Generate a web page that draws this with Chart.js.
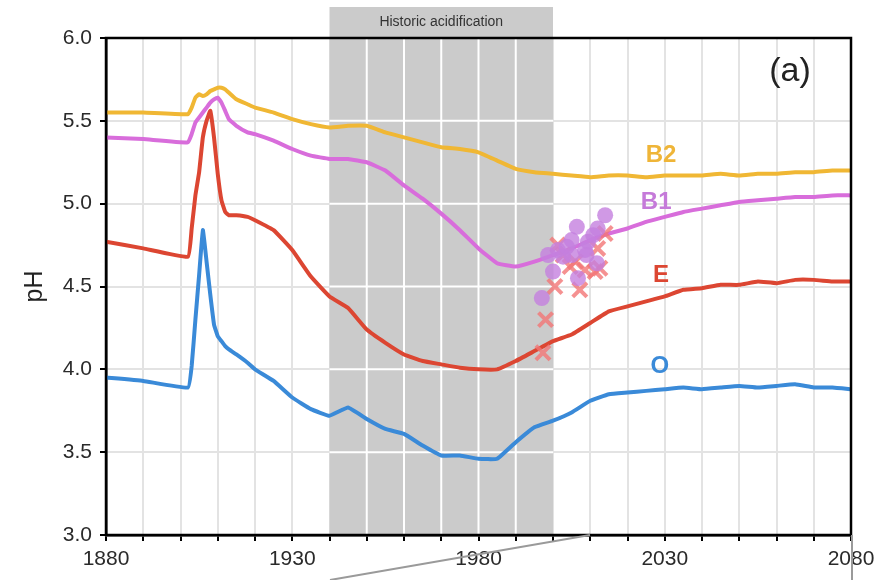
<!DOCTYPE html>
<html>
<head>
<meta charset="utf-8">
<script src="https://cdn.jsdelivr.net/npm/chart.js@4/dist/chart.umd.min.js"></script>
<style>
  html, body { margin: 0; padding: 0; background: #fff; }
  #wrap { width: 885px; height: 580px; position: relative; }
</style>
</head>
<body>
<div id="wrap"><canvas id="ph-chart" width="885" height="580"></canvas></div>
<script>
// simulated soil water pH per horizon
const years = [1880, 1890, 1902, 1903, 1904, 1905, 1906, 1907, 1908, 1909, 1910, 1911, 1912, 1913,
  1915, 1918, 1920, 1925, 1930, 1935, 1940, 1945, 1950, 1955, 1960, 1965, 1970, 1975, 1980, 1985,
  1990, 1995, 2000, 2005, 2010, 2015, 2020, 2025, 2030, 2035, 2040, 2045, 2050, 2055, 2060, 2065,
  2070, 2075, 2080];
const phB2 = [5.55, 5.55, 5.54, 5.58, 5.64, 5.66, 5.65, 5.66, 5.68, 5.69, 5.70, 5.70, 5.69, 5.67,
  5.63, 5.60, 5.58, 5.55, 5.51, 5.48, 5.46, 5.47, 5.47, 5.43, 5.40, 5.37, 5.34, 5.33, 5.31, 5.26,
  5.21, 5.19, 5.18, 5.17, 5.16, 5.17, 5.17, 5.16, 5.17, 5.17, 5.17, 5.18, 5.17, 5.18, 5.18, 5.19,
  5.19, 5.20, 5.20];
const phB1 = [5.40, 5.39, 5.37, 5.42, 5.49, 5.52, 5.55, 5.58, 5.61, 5.63, 5.64, 5.61, 5.56, 5.51,
  5.47, 5.43, 5.42, 5.38, 5.33, 5.29, 5.27, 5.27, 5.25, 5.20, 5.11, 5.03, 4.94, 4.84, 4.73, 4.64,
  4.62, 4.65, 4.69, 4.73, 4.78, 4.82, 4.85, 4.89, 4.92, 4.95, 4.97, 4.99, 5.01, 5.02, 5.03, 5.04,
  5.04, 5.05, 5.05];
const phE = [4.77, 4.73, 4.68, 4.85, 5.05, 5.19, 5.40, 5.50, 5.56, 5.40, 5.18, 5.02, 4.95, 4.93,
  4.93, 4.92, 4.90, 4.84, 4.72, 4.56, 4.44, 4.37, 4.24, 4.16, 4.09, 4.05, 4.03, 4.01, 4.00, 4.00,
  4.05, 4.11, 4.17, 4.21, 4.28, 4.35, 4.38, 4.41, 4.44, 4.48, 4.49, 4.51, 4.51, 4.53, 4.52, 4.54,
  4.54, 4.53, 4.53];
const phO = [3.95, 3.93, 3.89, 4.02, 4.30, 4.57, 4.84, 4.65, 4.45, 4.27, 4.20, 4.17, 4.14, 4.12,
  4.09, 4.04, 4.00, 3.93, 3.83, 3.76, 3.72, 3.77, 3.70, 3.64, 3.61, 3.54, 3.48, 3.48, 3.46, 3.46,
  3.56, 3.65, 3.69, 3.74, 3.81, 3.85, 3.86, 3.87, 3.88, 3.89, 3.88, 3.89, 3.90, 3.89, 3.90, 3.91,
  3.89, 3.89, 3.88];

// measured values
const obsB1Years = [1997, 1998.7, 2000, 2001.3, 2002.7, 2003.7, 2005, 2005, 2006.4, 2006.7, 2008.6,
  2009, 2009.4, 2010.8, 2011.8, 2012, 2014];
const obsB1Ph = [4.43, 4.69, 4.59, 4.72, 4.68, 4.74, 4.78, 4.69, 4.86, 4.55, 4.72, 4.69, 4.77, 4.81,
  4.64, 4.85, 4.93];
const obsEYears = [1997.3, 1998, 2000.5, 2001.3, 2002.7, 2004.6, 2006, 2007.2, 2008.6, 2011.3, 2012,
  2012.6, 2014];
const obsEPh = [4.10, 4.30, 4.50, 4.75, 4.69, 4.62, 4.65, 4.48, 4.60, 4.59, 4.73, 4.61, 4.82];

const acidStart = 1940, acidEnd = 2000;
const xLabelYears = [1880, 1930, 1980, 2030, 2080];

const seriesNames = ['B2', 'B1', 'E', 'O'];
const lineColors = ['#f0b734', '#d86ddb', '#dc4632', '#3a8ad8'];
const nameColors = ['#efb538', '#c57ad9', '#dc4632', '#3a8ad8'];
const nameAt = [[2029, 5.29], [2027.7, 5.01], [2029, 4.57], [2028.7, 4.02]];

const FONT = '"Liberation Sans", Arial, sans-serif';

function pts(xs, ys) {
  return xs.map((x, i) => ({ x: x, y: ys[i] }));
}

const decor = {
  id: 'decor',
  beforeDatasetsDraw(chart) {
    const { ctx, chartArea: a, scales: { x, y } } = chart;
    const x0 = x.getPixelForValue(acidStart), x1 = x.getPixelForValue(acidEnd);
    ctx.save();
    ctx.fillStyle = '#cbcbcb';
    ctx.fillRect(x0, a.top - 31, x1 - x0, a.bottom - a.top + 31);
    // grid shows white inside the shaded period
    ctx.strokeStyle = '#ffffff';
    ctx.lineWidth = 2;
    x.ticks.forEach(t => {
      if (t.value > acidStart && t.value < acidEnd) {
        const px = x.getPixelForValue(t.value);
        ctx.beginPath(); ctx.moveTo(px, a.top); ctx.lineTo(px, a.bottom); ctx.stroke();
      }
    });
    y.ticks.forEach(t => {
      if (t.value > 3 && t.value < 6) {
        const py = y.getPixelForValue(t.value);
        ctx.beginPath(); ctx.moveTo(x0, py); ctx.lineTo(x1, py); ctx.stroke();
      }
    });
    ctx.fillStyle = '#333';
    ctx.font = '14px ' + FONT;
    ctx.textAlign = 'center';
    ctx.textBaseline = 'middle';
    ctx.fillText('Historic acidification', (x0 + x1) / 2, a.top - 16);
    ctx.restore();
  },
  afterDraw(chart) {
    const { ctx, chartArea: a, scales: { x, y } } = chart;
    ctx.save();
    ctx.strokeStyle = '#000';
    ctx.lineWidth = 2.5;
    ctx.strokeRect(a.left, a.top, a.right - a.left, a.bottom - a.top);

    ctx.font = 'bold 24px ' + FONT;
    ctx.textAlign = 'center';
    ctx.textBaseline = 'middle';
    seriesNames.forEach((n, i) => {
      ctx.fillStyle = nameColors[i];
      ctx.fillText(n, x.getPixelForValue(nameAt[i][0]), y.getPixelForValue(nameAt[i][1]));
    });

    ctx.fillStyle = '#222';
    ctx.font = '34px ' + FONT;
    ctx.fillText('(a)', a.right - 61, a.top + 34);

    ctx.translate(35, (a.top + a.bottom) / 2);
    ctx.rotate(-Math.PI / 2);
    ctx.font = '25px ' + FONT;
    ctx.fillText('pH', 0, 0);
    ctx.restore();

    // connector lines toward the next panel
    ctx.save();
    ctx.strokeStyle = '#9a9a9a';
    ctx.lineWidth = 2;
    ctx.beginPath();
    ctx.moveTo(330, 580); ctx.lineTo(590, a.bottom);
    ctx.moveTo(a.right + 1, a.bottom); ctx.lineTo(a.right + 1, 580);
    ctx.stroke();
    ctx.restore();
  }
};

const lineSets = [phB2, phB1, phE, phO].map((vals, i) => ({
  label: seriesNames[i],
  data: pts(years, vals),
  borderColor: lineColors[i],
  borderWidth: 4,
  pointRadius: 0,
  tension: 0.1,
  fill: false,
  order: 3
}));

new Chart(document.getElementById('ph-chart'), {
  type: 'line',
  data: {
    datasets: lineSets.concat([
      {
        label: 'E obs',
        type: 'scatter',
        data: pts(obsEYears, obsEPh),
        pointStyle: 'crossRot',
        pointRadius: 10,
        borderWidth: 4,
        borderColor: 'rgba(242,118,118,0.8)',
        showLine: false,
        order: 2
      },
      {
        label: 'B1 obs',
        type: 'scatter',
        data: pts(obsB1Years, obsB1Ph),
        pointStyle: 'circle',
        pointRadius: 8,
        borderWidth: 0,
        backgroundColor: 'rgba(196,128,222,0.8)',
        showLine: false,
        order: 1
      }
    ])
  },
  options: {
    responsive: false,
    animation: false,
    layout: { padding: { top: 38, right: 34, left: 0, bottom: 0 } },
    plugins: { legend: { display: false }, tooltip: { enabled: false } },
    scales: {
      x: {
        type: 'linear',
        min: 1880,
        max: 2080,
        afterFit(s) { s.height = 45; },
        ticks: {
          stepSize: 10,
          autoSkip: false,
          maxRotation: 0,
          padding: 6,
          color: '#2a2a2a',
          font: { family: FONT, size: 21 },
          callback: v => (xLabelYears.includes(v) ? String(v) : '')
        },
        grid: { color: '#e3e3e3', lineWidth: 2, tickColor: '#000', tickLength: 6, tickWidth: 2 },
        border: { color: '#000', width: 2.5 }
      },
      y: {
        min: 3,
        max: 6,
        afterFit(s) { s.width = 106; },
        ticks: {
          stepSize: 0.5,
          padding: 8,
          color: '#2a2a2a',
          font: { family: FONT, size: 21 },
          callback: v => v.toFixed(1)
        },
        grid: { color: '#e3e3e3', lineWidth: 2, tickColor: '#000', tickLength: 6, tickWidth: 2 },
        border: { color: '#000', width: 2.5 }
      }
    }
  },
  plugins: [decor]
});
</script>
</body>
</html>
